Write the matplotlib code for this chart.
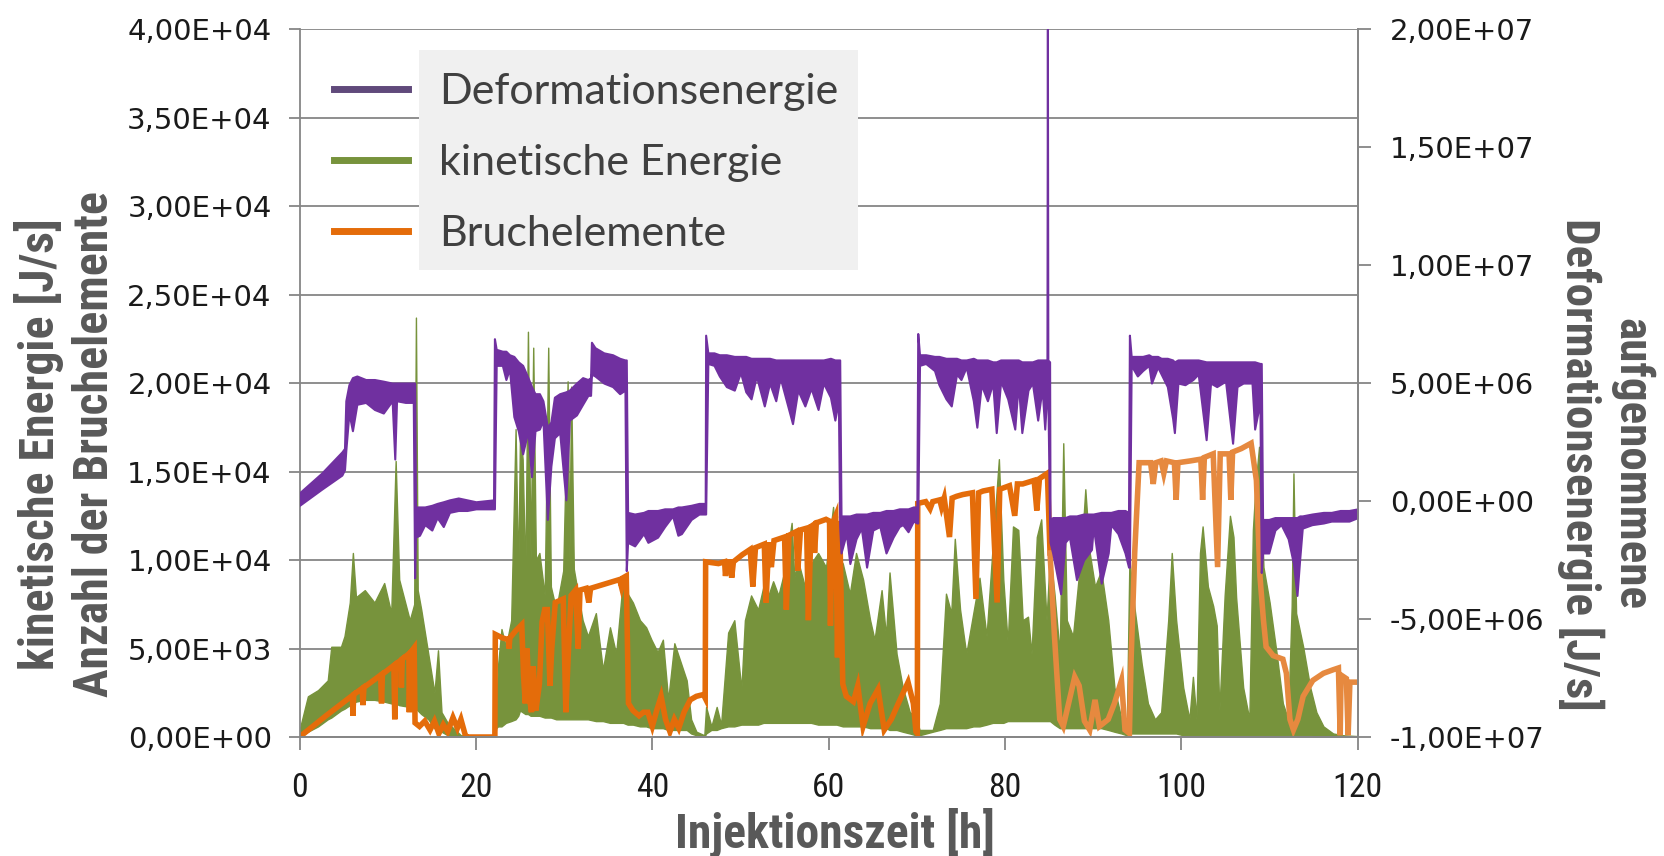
import numpy as np
import matplotlib
matplotlib.use("Agg")
import matplotlib.pyplot as plt
from matplotlib.lines import Line2D
from matplotlib.patches import Rectangle
from matplotlib.ticker import FuncFormatter, MultipleLocator
from matplotlib.font_manager import FontProperties

# --- Deformationsenergie (right axis), noisy band: lower / upper edge in 1e6 J/s
deform_t = [0.0, 2.5, 4.8, 5.1, 5.25, 5.6, 6.0, 6.5, 7.5, 8.5, 9.5, 10.5, 10.8, 11.0, 12.0, 12.9, 13.05, 13.15, 13.6, 14.2, 15.0, 15.6, 16.3, 17.0, 18.0, 19.0,
            20.0, 22.0, 22.1, 22.3, 23.0, 23.4, 23.8, 24.3, 24.8, 25.3, 25.9, 26.3, 26.7, 27.2, 27.6, 28.1, 28.5, 28.9, 29.5, 30.2, 30.6, 31.4, 32.1, 32.7, 33.0, 33.1, 33.5, 34.5, 35.5, 36.3, 36.9, 37.05, 37.2, 38.0, 39.0,
            39.5, 40.6, 41.4, 42.3, 42.9, 43.3, 44.4, 45.3, 46.0, 46.05, 46.3, 47.0, 47.6, 48.4, 49.3, 50.0, 50.6, 51.2, 51.8, 52.7, 53.3, 54.0, 54.5, 55.9, 56.5, 57.3, 58.0, 58.8, 59.4, 60.2, 60.7, 61.1, 61.25,
            61.4, 62.0, 62.4, 63.1, 63.7, 64.3, 65.0, 65.8, 66.5, 67.3, 68.0, 68.4, 69.0, 69.6, 70.0, 70.1, 70.3, 71.0, 72.0, 72.5, 73.3, 73.9, 74.5, 75.0, 75.6, 76.4, 76.8, 77.3, 78.0, 78.6, 79.0,
            79.5, 80.3, 81.1, 81.5, 81.9, 82.6, 83.1, 83.7, 84.2, 84.5, 84.75, 84.8, 84.85, 85.05, 85.1, 85.4, 86.3, 86.8, 87.3, 88.1, 88.9, 89.8, 90.0, 90.9, 91.7, 92.0, 92.8, 93.6, 94.0, 94.1, 94.3, 95.0, 95.6, 96.3, 96.6, 97.3, 97.7, 98.4, 99.0,
            99.2, 99.6, 100.4, 101.3, 101.9, 102.8, 103.3, 104.0, 105.0, 105.8, 106.3, 107.0, 108.0, 108.3, 108.9, 109.05, 109.2, 109.9, 110.6, 111.3, 112.1, 112.7, 113.1, 113.4, 113.7, 114.8, 116.1, 117.0, 118.0, 119.0, 120.0]
deform_lo = [-0.18, 0.5, 1.1, 1.33, 2.15, 3.73, 2.98, 4.1, 4.18, 3.88, 3.73, 4.25, 1.78, 4.25, 4.18, 4.18, -3.25, -1.53, -1.45, -1.0, -1.23, -0.7, -1.08, -0.48, -0.4, -0.4,
             -0.33, -0.33, -0.33, 5.75, 5.75, 5.15, 5.6, 3.58, 2.98, 2.0, 2.98, 1.03, 2.98, 3.05, 3.43, -0.78, 1.48, 2.68, 2.9, 0.05, 3.43, 3.65, 4.1, 4.48, 4.48, 5.38, 5.3, 5.0, 4.85, 4.55, 4.7, -2.95, -1.75, -1.9, -1.38,
             -1.75, -1.53, -1.08, -0.63, -1.45, -1.38, -0.78, -0.55, -0.55, -0.55, 5.83, 5.75, 5.3, 4.85, 4.7, 5.45, 4.63, 4.33, 5.3, 4.03, 5.0, 4.25, 5.23, 3.28, 4.7, 4.03, 4.78, 3.88, 5.0, 4.4, 3.43, 4.25, -1.08,
             -2.2, -1.38, -2.65, -1.6, -1.15, -2.8, -1.23, -1.08, -2.2, -1.53, -1.08, -1.0, -1.3, -0.85, -0.93, -0.93, 5.75, 5.83, 5.53, 4.93, 4.33, 4.03, 5.38, 5.15, 5.68, 4.25, 3.13, 4.93, 4.25, 5.0, 2.9,
             5.08, 4.33, 3.05, 5.0, 2.9, 4.7, 5.0, 3.43, 4.78, 3.05, 4.63, 4.63, 4.63, -1.0, -1.75, -2.2, -3.93, -1.75, -1.53, -3.33, -2.5, -2.05, -1.08, -3.48, -2.2, -1.0, -1.38, -2.2, -2.8, -2.8, 5.75, 5.3, 5.53, 5.75, 5.0, 5.68, 5.38, 4.85, 3.5,
             2.9, 5.0, 4.93, 5.15, 5.38, 2.6, 5.0, 4.85, 5.08, 2.45, 4.85, 5.0, 5.0, 3.05, 4.18, -3.03, -2.2, -2.2, -1.23, -1.0, -1.6, -2.65, -4.0, -2.5, -1.15, -1.0, -0.93, -0.85, -0.85, -0.85, -0.7]
deform_hi = [0.35, 1.18, 2.08, 2.23, 4.25, 4.93, 5.23, 5.3, 5.15, 5.15, 5.08, 5.0, 5.0, 5.0, 5.0, 5.0, 5.0, -0.25, -0.25, -0.25, -0.18, -0.1, -0.03, 0.05, 0.13, 0.05,
             -0.03, 0.05, 6.88, 6.43, 6.35, 6.35, 6.2, 6.13, 5.9, 5.75, 5.23, 4.85, 4.55, 4.55, 4.25, 3.13, 3.35, 4.4, 4.55, 4.63, 4.7, 5.0, 5.23, 5.15, 5.23, 6.73, 6.5, 6.28, 6.2, 6.05, 5.98, 5.98, -0.48, -0.55, -0.48,
             -0.4, -0.4, -0.33, -0.33, -0.25, -0.25, -0.18, -0.1, -0.1, 7.03, 6.28, 6.28, 6.2, 6.2, 6.13, 6.13, 6.13, 6.05, 6.05, 6.05, 6.05, 5.98, 5.98, 5.98, 5.98, 5.98, 5.98, 5.98, 5.98, 6.05, 5.98, 5.98, 5.98,
             -0.63, -0.63, -0.63, -0.55, -0.55, -0.55, -0.48, -0.48, -0.4, -0.4, -0.33, -0.33, -0.33, -0.25, -0.25, 7.1, 6.2, 6.2, 6.13, 6.13, 6.05, 6.05, 6.05, 5.98, 5.98, 6.05, 5.98, 5.98, 5.98, 5.9, 5.9,
             5.98, 5.98, 5.98, 5.98, 5.9, 5.9, 5.9, 5.98, 5.98, 5.98, 5.98, 20.0, 5.98, 5.9, -0.78, -0.7, -0.7, -0.7, -0.63, -0.63, -0.55, -0.55, -0.55, -0.48, -0.48, -0.48, -0.4, -0.4, -0.48, 7.03, 6.13, 6.13, 6.13, 6.2, 6.13, 6.13, 6.05, 6.05, 5.98,
             5.9, 5.98, 5.98, 5.98, 5.98, 5.9, 5.9, 5.9, 5.9, 5.9, 5.9, 5.9, 5.9, 5.9, 5.83, 5.83, -0.78, -0.78, -0.7, -0.7, -0.7, -0.7, -0.7, -0.63, -0.63, -0.55, -0.48, -0.48, -0.4, -0.4, -0.33]

# --- kinetische Energie (left axis), noisy band: lower / upper edge in kJ/s
kin_t = [0.0, 0.95, 2.1, 3.2, 3.6, 4.7, 5.1, 5.7, 6.05, 6.4,
         7.4, 8.5, 9.6, 10.4, 10.9, 11.3, 12.5, 13.0, 13.2, 13.4,
         13.8, 14.6, 15.3, 15.7, 16.1, 16.8, 18.3, 22.15, 22.3, 22.5,
         22.9, 23.4, 24.0, 24.5, 24.8, 25.0, 25.3, 25.6, 25.9, 26.2,
         26.5, 26.8, 27.2, 27.8, 28.2, 28.5, 29.1, 29.9, 30.4, 30.6,
         30.8, 31.1, 32.1, 32.7, 33.6, 34.4, 35.2, 35.9, 36.7, 37.2,
         37.8, 38.6, 39.3, 39.9, 40.6, 41.2, 41.8, 42.5, 43.3, 43.9,
         44.4, 45.0, 45.9, 46.1, 46.7, 47.3, 47.8, 48.6, 49.3, 50.1,
         50.5, 51.2, 52.0, 52.6, 53.1, 53.7, 54.3, 55.0, 55.8, 56.1,
         56.5, 57.3, 58.0, 58.8, 59.7, 60.5, 60.9, 61.6, 62.4, 63.1,
         63.9, 64.7, 65.2, 66.0, 66.5, 66.9, 67.7, 68.4, 69.2, 69.9,
         70.3, 71.8, 72.6, 73.3, 73.9, 74.3, 74.9, 75.6, 76.4, 77.1,
         77.9, 78.6, 79.3, 79.8, 80.3, 80.9, 81.5, 82.0, 82.6, 83.0,
         83.6, 84.1, 84.7, 85.1, 85.6, 86.2, 86.6, 87.0, 87.7, 88.7,
         89.1, 89.6, 90.2, 90.9, 91.7, 92.4, 93.2, 93.8, 94.1, 94.7,
         95.5, 96.2, 97.0, 97.7, 98.5, 98.9, 99.4, 100.2, 100.9, 101.3,
         101.7, 102.1, 102.4, 103.0, 103.6, 104.0, 104.3, 104.9, 105.5, 105.9,
         106.2, 107.0, 107.7, 108.1, 108.4, 108.8, 109.3, 110.0, 110.8, 111.5,
         112.1, 112.5, 112.7, 113.0, 113.8, 114.6, 115.3, 116.1, 117.2, 118.3,
         120.0]
kin_lo = [0.0, 0.3, 0.6, 1.0, 1.1, 1.5, 1.6, 1.8, 1.9, 2.0,
          2.1, 2.1, 2.0, 1.9, 1.9, 1.8, 1.7, 1.6, 1.6, 1.5,
          1.3, 1.0, 0.5, 0.4, 0.3, 0.1, 0.0, 0.0, 0.5, 0.6,
          0.6, 0.8, 0.9, 1.0, 1.2, 1.5, 1.4, 1.3, 1.3, 1.2,
          1.2, 1.2, 1.2, 1.1, 1.1, 1.1, 1.0, 1.0, 1.0, 1.0,
          1.0, 1.0, 1.0, 1.0, 0.9, 0.9, 0.8, 0.8, 0.8, 0.7,
          0.7, 0.6, 0.6, 0.5, 0.5, 0.5, 0.4, 0.4, 0.4, 0.4,
          0.2, 0.1, 0.0, 0.2, 0.4, 0.4, 0.5, 0.6, 0.6, 0.7,
          0.7, 0.7, 0.7, 0.8, 0.8, 0.8, 0.8, 0.8, 0.8, 0.8,
          0.8, 0.8, 0.8, 0.7, 0.7, 0.7, 0.7, 0.6, 0.6, 0.6,
          0.6, 0.5, 0.5, 0.5, 0.5, 0.4, 0.4, 0.3, 0.2, 0.1,
          0.1, 0.3, 0.4, 0.5, 0.5, 0.5, 0.5, 0.5, 0.6, 0.6,
          0.7, 0.8, 0.8, 0.8, 0.9, 0.9, 0.9, 0.9, 0.9, 0.9,
          0.9, 0.9, 0.9, 0.9, 0.7, 0.5, 0.5, 0.5, 0.5, 0.5,
          0.5, 0.5, 0.5, 0.5, 0.4, 0.3, 0.2, 0.1, 0.2, 0.2,
          0.2, 0.2, 0.2, 0.2, 0.2, 0.2, 0.2, 0.1, 0.1, 0.1,
          0.1, 0.1, 0.1, 0.1, 0.1, 0.1, 0.1, 0.1, 0.1, 0.1,
          0.1, 0.1, 0.1, 0.1, 0.1, 0.1, 0.1, 0.1, 0.1, 0.1,
          0.1, 0.1, 0.1, 0.1, 0.1, 0.1, 0.0, 0.0, 0.0, 0.0,
          0.0]
kin_hi = [0.4, 2.3, 2.65, 3.2, 5.1, 5.1, 5.7, 7.6, 10.4, 7.9,
          8.3, 7.6, 8.7, 7.0, 15.6, 8.9, 6.6, 7.5, 23.7, 8.3,
          7.2, 4.7, 2.5, 4.9, 1.4, 0.8, 0.1, 0.0, 1.4, 4.0,
          6.1, 5.1, 6.6, 17.4, 9.0, 17.2, 15.7, 9.0, 22.9, 10.0,
          22.0, 10.0, 10.4, 8.0, 22.0, 8.5, 7.2, 9.4, 20.1, 10.0,
          19.8, 9.5, 6.6, 5.7, 7.0, 3.8, 6.2, 4.7, 9.0, 8.1,
          7.6, 6.6, 6.2, 5.5, 4.8, 5.5, 2.1, 5.3, 4.1, 3.2,
          1.0, 0.3, 0.1, 1.7, 0.6, 1.7, 0.7, 5.9, 6.6, 2.7,
          6.6, 8.0, 7.2, 8.5, 7.9, 8.8, 8.0, 9.4, 12.1, 9.0,
          10.0, 8.5, 9.8, 10.4, 9.6, 13.0, 10.4, 9.8, 8.1, 10.4,
          8.9, 6.6, 5.5, 8.3, 5.7, 9.3, 4.7, 2.8, 1.4, 1.2,
          0.4, 0.4, 1.9, 8.1, 7.0, 11.2, 7.2, 4.7, 7.0, 9.0,
          5.7, 10.8, 15.7, 8.9, 5.3, 11.9, 11.7, 6.6, 6.8, 4.7,
          11.3, 12.3, 6.6, 10.4, 8.1, 4.7, 16.6, 6.6, 5.7, 10.8,
          14.0, 10.4, 8.5, 9.4, 6.6, 2.8, 1.0, 0.4, 10.0, 7.2,
          4.1, 1.9, 1.0, 1.4, 6.6, 10.4, 6.6, 2.8, 1.0, 3.4,
          1.0, 10.4, 11.9, 8.5, 7.4, 6.3, 1.5, 8.0, 12.5, 11.3,
          7.9, 2.8, 1.0, 11.7, 14.2, 16.4, 9.6, 7.6, 4.7, 1.9,
          1.0, 7.4, 14.9, 7.0, 5.1, 2.8, 1.4, 0.6, 0.2, 0.1,
          0.05]

# --- Bruchelemente (left axis), in thousands
bruch_t = [0.0, 3.0, 6.0, 6.05, 6.15, 7.1, 7.2, 7.3, 9.2, 9.3,
           9.4, 10.7, 10.8, 10.9, 11.5, 11.55, 11.65, 12.4, 12.45, 12.55,
           13.0, 13.1, 13.6, 14.2, 14.8, 15.3, 15.8, 16.3, 16.8, 17.4,
           17.9, 18.3, 18.8, 19.0, 22.15, 22.2, 23.0, 23.7, 23.75, 23.85,
           24.5, 25.2, 25.4, 25.6, 25.8, 26.0, 26.3, 26.5, 26.8, 27.2,
           27.5, 27.8, 28.1, 28.4, 28.6, 29.0, 29.9, 30.2, 30.5, 30.8,
           31.3, 31.6, 31.8, 32.5, 32.8, 33.0, 35.0, 36.3, 36.5, 36.7,
           37.05, 37.3, 37.8, 38.5, 39.0, 39.5, 40.0, 40.5, 41.0, 41.5,
           42.0, 42.5, 43.0, 43.6, 44.3, 45.0, 45.8, 46.0, 46.05, 47.5,
           48.2, 48.3, 48.5, 48.9, 49.0, 49.2, 50.2, 51.1, 51.4, 51.7,
           52.7, 52.9, 53.2, 53.5, 53.8, 55.0, 55.2, 55.5, 56.3, 56.5,
           56.8, 57.5, 57.7, 58.0, 58.3, 58.4, 58.6, 59.7, 60.1, 60.2,
           60.4, 60.8, 61.0, 61.2, 61.25, 61.6, 62.0, 62.8, 63.3, 63.9,
           64.7, 65.6, 66.3, 67.1, 67.9, 69.0, 69.6, 69.9, 70.05, 70.1,
           71.0, 71.5, 71.8, 72.6, 72.8, 73.1, 73.7, 74.0, 74.5, 75.2,
           76.3, 76.7, 77.0, 77.5, 78.5, 79.1, 79.4, 80.5, 81.1, 81.4,
           82.0, 83.3, 83.6, 83.9, 84.8, 85.1, 85.6, 86.2, 86.6, 87.9,
           88.4, 89.0, 89.6, 90.2, 90.7, 91.7, 92.4, 93.2, 93.6, 94.1,
           94.3, 94.7, 95.2, 96.5, 96.8, 97.1, 97.7, 98.0, 98.3, 99.2,
           99.4, 99.6, 101.0, 102.2, 102.4, 102.6, 103.6, 104.1, 104.4, 105.4,
           105.6, 105.8, 106.8, 107.9, 108.5, 108.9, 109.3, 109.6, 110.4, 111.5,
           111.9, 112.3, 112.7, 113.2, 113.8, 114.9, 116.1, 117.2, 117.8, 118.0,
           118.1, 118.7, 118.9, 119.1, 120.0]
bruch_n = [0.0, 1.2, 2.35, 1.2, 2.4, 2.75, 1.8, 2.8, 3.5, 1.9,
           3.55, 4.05, 1.0, 4.1, 4.35, 2.8, 4.4, 4.7, 1.4, 4.75,
           5.05, 0.8, 0.6, 0.9, 0.4, 0.9, 0.2, 0.7, 0.3, 1.1,
           0.5, 1.0, 0.1, 0.0, 0.0, 5.8, 5.6, 5.5, 5.0, 5.6,
           6.0, 6.35, 3.5, 1.9, 5.0, 2.5, 1.4, 4.0, 1.5, 3.0,
           6.5, 7.2, 7.2, 2.9, 5.0, 7.6, 7.8, 1.4, 5.0, 8.0,
           8.3, 5.0, 8.3, 8.4, 7.6, 8.4, 8.7, 8.9, 8.5, 9.0,
           9.1, 1.9, 1.5, 1.2, 1.4, 1.4, 0.6, 1.5, 2.3, 1.0,
           0.3, 1.0, 0.5, 1.4, 2.1, 2.3, 2.4, 2.2, 9.9, 9.8,
           9.9, 9.1, 9.9, 9.9, 9.0, 9.9, 10.3, 10.6, 8.5, 10.7,
           10.9, 7.6, 11.0, 9.6, 11.1, 11.3, 7.2, 11.4, 11.6, 9.4,
           11.7, 11.8, 6.6, 11.9, 12.0, 10.4, 12.1, 12.3, 12.2, 6.3,
           12.0, 12.5, 4.5, 12.2, 12.0, 3.0, 2.3, 2.0, 2.9, 0.6,
           1.9, 2.7, 0.4, 1.0, 1.9, 3.1, 1.9, 0.3, 0.2, 13.2,
           13.3, 12.9, 13.3, 13.4, 13.0, 13.5, 11.3, 13.5, 13.6, 13.7,
           13.8, 7.8, 13.8, 13.9, 14.0, 7.6, 14.0, 14.2, 12.5, 14.3,
           14.3, 14.5, 12.8, 14.6, 14.9, 10.4, 5.7, 1.0, 0.6, 3.4,
           2.9, 0.9, 0.4, 2.1, 0.6, 1.0, 1.9, 3.2, 0.4, 0.2,
           4.5, 10.4, 15.5, 15.5, 14.3, 15.5, 15.6, 14.9, 15.6, 15.5,
           13.4, 15.5, 15.6, 15.7, 13.4, 15.8, 16.0, 9.6, 16.0, 16.0,
           13.4, 16.1, 16.3, 16.6, 14.5, 9.1, 6.6, 5.1, 4.6, 4.4,
           3.6, 1.0, 0.4, 1.0, 2.3, 3.2, 3.6, 3.8, 3.9, 0.1,
           3.5, 3.3, 0.1, 3.1, 3.1]

labels = ["Deformationsenergie", "kinetische Energie", "Bruchelemente"]

purple = "#7030a0"
green = "#77933c"
orange = "#e46c0a"
orange_light = "#e6893f"
grid_c = "#868686"
label_c = "#595959"

dt = np.array(deform_t)
dlo = np.array(deform_lo) * 1e6
dhi = np.array(deform_hi) * 1e6
kt = np.array(kin_t)
klo = np.array(kin_lo) * 1000
khi = np.array(kin_hi) * 1000
bt = np.array(bruch_t)
bn = np.array(bruch_n) * 1000

fig = plt.figure(figsize=(16.64, 8.56), dpi=100)
ax = fig.add_axes([0.180, 0.139, 0.636, 0.827])
ax2 = ax.twinx()

# green band and orange line on the left axis
ax.fill_between(kt, klo, khi, facecolor=green, edgecolor=green, lw=1.0)
k = np.searchsorted(bt, 85.0)
ax.plot(bt[:k + 1], bn[:k + 1], color=orange, lw=4, solid_joinstyle="miter")
ax.plot(bt[k:], bn[k:], color=orange_light, lw=4, solid_joinstyle="miter")

# purple band on the right axis
ax2.fill_between(dt, dlo, dhi, facecolor=purple, edgecolor=purple, lw=1.5)

ax.set_xlim(0, 120)
ax.set_ylim(0, 40000)
ax2.set_ylim(-1e7, 2e7)
ax.xaxis.set_major_locator(MultipleLocator(20))
ax.yaxis.set_major_locator(MultipleLocator(5000))
ax2.yaxis.set_major_locator(MultipleLocator(5e6))

sci = FuncFormatter(lambda v, p: f"{v:.2E}".replace(".", ","))
ax.yaxis.set_major_formatter(sci)
ax2.yaxis.set_major_formatter(sci)

ax.grid(axis="y", color=grid_c, lw=1.3)
ax.set_axisbelow(True)
for a in (ax, ax2):
    for s in a.spines.values():
        s.set_color(grid_c)
        s.set_linewidth(1.3)
    a.spines["top"].set_visible(False)
ax2.spines["left"].set_visible(False)

ax.tick_params(axis="y", direction="out", length=8, width=1.3, color=grid_c,
               pad=12, labelsize=21, labelcolor="#1a1a1a")
ax2.tick_params(axis="y", direction="out", length=9, width=1.3, color=grid_c,
                pad=14, labelsize=21, labelcolor="#1a1a1a")
ax.tick_params(axis="x", direction="out", length=9, width=1.3, color=grid_c,
               pad=16, labelcolor="#1a1a1a")

narrow = ["Liberation Sans Narrow", "Roboto Condensed", "Noto Sans Condensed",
          "Open Sans Condensed", "DejaVu Sans"]
renderer = fig.canvas.get_renderer()


def fit_size(txt, target_px, vertical=False):
    bb = txt.get_window_extent(renderer)
    cur = bb.height if vertical else bb.width
    txt.set_fontsize(txt.get_fontsize() * target_px / cur)


# x tick labels: narrow font, sized so that "100" is about 50 px wide
probe = fig.text(0, 0, "100", family=narrow, stretch="condensed", size=20)
fit_size(probe, 50)
xt_size = probe.get_fontsize()
probe.remove()
for lab in ax.get_xticklabels():
    lab.set_fontfamily(narrow)
    lab.set_fontstretch("condensed")
    lab.set_fontsize(xt_size)

# legend with grey box behind the labels
handles = [Line2D([], [], color="#604a7b", lw=5),
           Line2D([], [], color=green, lw=5),
           Line2D([], [], color=orange, lw=5)]
ax2.add_patch(Rectangle((0.1125, 0.66), 0.415, 0.31, transform=ax2.transAxes,
                        facecolor="#f0f0f0", edgecolor="none", zorder=4, clip_on=False))
leg = ax2.legend(handles, labels, loc="upper left", bbox_to_anchor=(0.016, 0.962),
                 frameon=False, prop=FontProperties(family=["Lato", "DejaVu Sans"], size=31),
                 handlelength=1.72, handletextpad=0.72, labelspacing=0.76, borderaxespad=0)
leg.set_zorder(6)
for txt in leg.get_texts():
    txt.set_color("#404040")

# axis titles, sized to the reference lengths
title_kw = dict(family=narrow, stretch="condensed", weight="bold", color=label_c, size=24)
xl = fig.text(0.502, 0.027, "Injektionszeit [h]", ha="center", va="center", **title_kw)
fit_size(xl, 321)
yl = fig.text(0.0397, 0.481, "kinetische Energie [J/s]\nAnzahl der Bruchelemente", rotation=90,
              ha="center", va="center", multialignment="center", **title_kw)
fit_size(yl, 506, vertical=True)
yl.set_linespacing(58 / (yl.get_fontsize() * 100 / 72 * 0.99))
yr = fig.text(0.965, 0.458, "aufgenommene\nDeformationsenergie [J/s]", rotation=270,
              ha="center", va="center", multialignment="center", **title_kw)
fit_size(yr, 495, vertical=True)
yr.set_linespacing(53 / (yr.get_fontsize() * 100 / 72 * 0.99))

fig.savefig("out.png", dpi=100)
